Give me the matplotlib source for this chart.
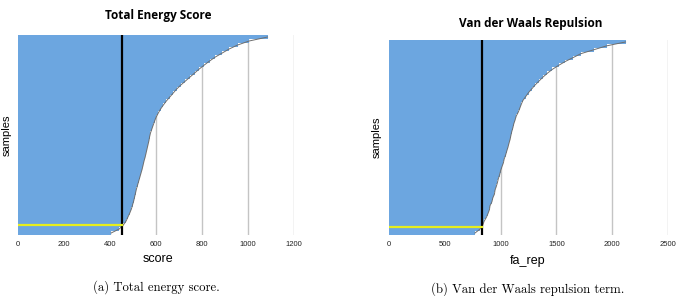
import numpy as np
import matplotlib
matplotlib.use('Agg')
import matplotlib.pyplot as plt

# sorted per-sample values, bottom bar first
total_score = [405, 440, 458, 470, 478, 486, 493, 498, 503, 507,
               511, 515, 520, 525, 530, 535, 540, 544, 548, 553,
               557, 561, 565, 569, 572, 576, 582, 588, 594, 601,
               610, 620, 632, 645, 660, 675, 690, 708, 728, 748,
               768, 788, 810, 833, 858, 888, 918, 955, 1005, 1085]
fa_rep = [770, 815, 840, 852, 872, 887, 900, 905, 922, 930,
          945, 950, 962, 972, 980, 992, 1000, 1012, 1025, 1032,
          1045, 1055, 1066, 1075, 1085, 1092, 1100, 1110, 1118, 1130,
          1140, 1158, 1172, 1185, 1200, 1225, 1250, 1280, 1310, 1345,
          1380, 1420, 1465, 1520, 1580, 1650, 1720, 1835, 1950, 2120]
score_cut = 452
rep_cut = 833
score_mark = 2.5
rep_mark = 2.05
score_ticks = [0, 200, 400, 600, 800, 1000, 1200]
rep_ticks = [0, 500, 1000, 1500, 2000, 2500]

BLUE = '#6ca6e0'

fig = plt.figure(figsize=(6.85, 2.96), dpi=100)
W, H = 685.0, 296.0

def panel(rect, vals, cut, mark, ticks):
    ax = fig.add_axes(rect)
    n = len(vals)
    y = np.arange(n)
    ax.barh(y + 0.5, vals, height=1.0, color=BLUE, linewidth=0, zorder=2)
    # darker outline along the bar ends
    ax.plot(vals, y + 0.5, color='#6e6e6e', lw=0.7, zorder=3)
    ax.axvline(cut, color='black', lw=1.6, zorder=4)
    ax.plot([0, cut], [mark, mark], color='#e6ee1e', lw=1.6, zorder=4)
    ax.set_xlim(ticks[0], ticks[-1])
    ax.set_ylim(0, n)
    ax.set_xticks(ticks)
    ax.set_xticklabels([str(t) for t in ticks], fontsize=5.5, family='Liberation Sans', color='#222222')
    ax.tick_params(axis='x', length=0, pad=4)
    ax.set_yticks([])
    ax.grid(axis='x', color='#c4c4c4', lw=1.0, zorder=1)
    for s in ax.spines.values():
        s.set_visible(False)
    ax.set_axisbelow(True)
    return ax

ax1 = panel([18 / W, 1 - 235 / H, 276 / W, 200 / H], total_score, score_cut, score_mark, score_ticks)
ax2 = panel([389 / W, 1 - 235 / H, 279 / W, 195 / H], fa_rep, rep_cut, rep_mark, rep_ticks)

fig.text(158 / W, 1 - 16 / H, 'Total Energy Score', ha='center', va='center',
         fontsize=8.5, fontweight='bold', family='Open Sans')
fig.text(531 / W, 1 - 23 / H, 'Van der Waals Repulsion', ha='center', va='center',
         fontsize=8.5, fontweight='bold', family='Open Sans')

fig.text(7 / W, 1 - 135 / H, 'samples', rotation=90, ha='center', va='center',
         fontsize=8, family='Liberation Sans')
fig.text(377 / W, 1 - 137 / H, 'samples', rotation=90, ha='center', va='center',
         fontsize=8, family='Liberation Sans')

fig.text(158 / W, 1 - 259 / H, 'score', ha='center', va='center', fontsize=9, family='Liberation Sans')
fig.text(528 / W, 1 - 261 / H, 'fa_rep', ha='center', va='center', fontsize=9, family='Liberation Sans')

fig.text(156 / W, 1 - 287 / H, '(a) Total energy score.', ha='center', va='center',
         fontsize=9.2, family='cmr10')
fig.text(528 / W, 1 - 289 / H, '(b) Van der Waals repulsion term.', ha='center', va='center',
         fontsize=9.2, family='cmr10')

fig.savefig('out.png', dpi=100)
